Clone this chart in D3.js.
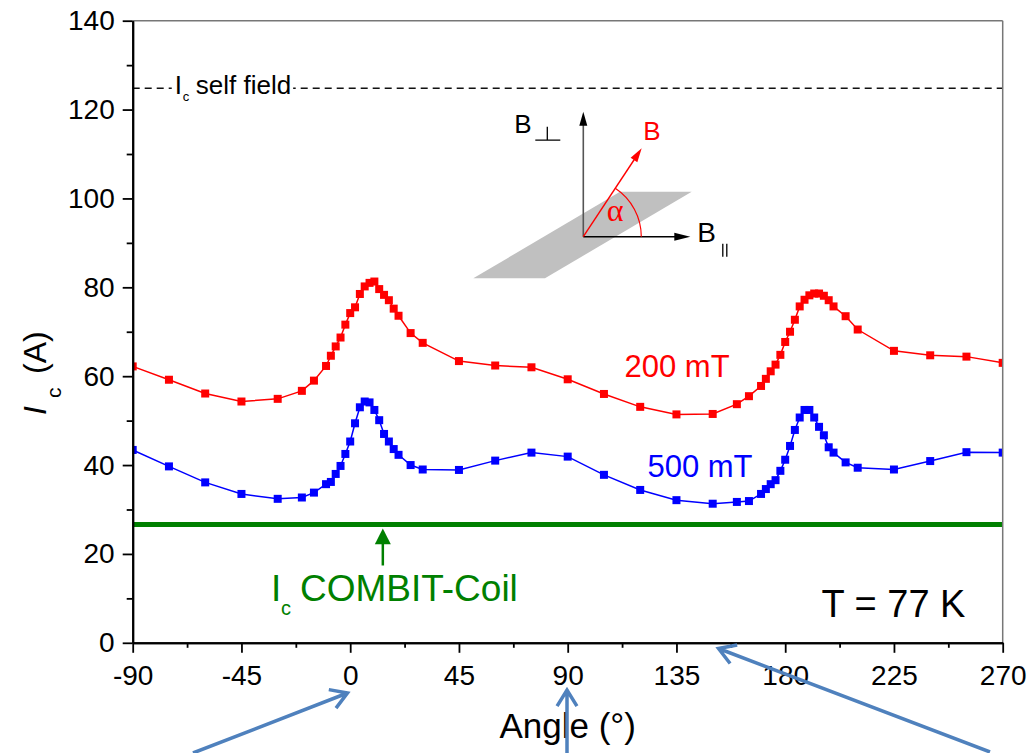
<!DOCTYPE html>
<html>
<head>
<meta charset="utf-8">
<script src="https://cdn.jsdelivr.net/npm/d3@7"></script>
<style>
body { margin: 0; background: #fff; }
text { font-family: "Liberation Sans", Arial, sans-serif; }
</style>
</head>
<body>
<div id="chart"></div>
<script>
// measured points (angle in deg, Ic in A), same angles for both fields
var angles = [-90, -75, -60, -45, -30, -20, -15, -10, -8, -6, -4, -2,
    0, 2, 4, 6, 8, 10, 12, 14, 16, 18, 20, 25, 30, 45, 60, 75, 90, 105, 120, 135, 150,
    160, 165, 170, 172, 174, 176, 178, 180, 182, 184, 186, 188, 190, 192, 194, 196, 198, 200,
    205, 210, 225, 240, 255, 270];
var ic200 = [62.2, 59.2, 56.1, 54.3, 54.9, 56.7, 59.0, 62.3, 64.6, 66.7, 68.7, 71.6,
    74.2, 75.5, 78.5, 80.2, 81.0, 81.3, 79.6, 78.3, 77.1, 75.2, 73.6, 69.7, 67.5, 63.4, 62.4, 62.0, 59.3, 56.0, 53.1, 51.4, 51.5,
    53.7, 55.5, 57.8, 59.4, 61.1, 62.6, 64.8, 67.7, 70.0, 72.7, 75.7, 77.2, 78.2, 78.6, 78.6, 78.1, 77.1, 75.7,
    73.5, 70.5, 65.7, 64.7, 64.4, 63.0];
var ic500 = [43.4, 39.7, 36.1, 33.5, 32.4, 32.7, 33.8, 35.7, 36.2, 38.0, 39.8, 42.5,
    45.3, 49.4, 53.0, 54.3, 54.1, 52.4, 50.1, 47.0, 45.3, 43.6, 42.3, 40.0, 39.0, 38.9, 41.0, 42.8, 41.9, 37.8, 34.4, 32.1, 31.3,
    31.7, 31.9, 33.5, 34.6, 35.7, 36.6, 38.7, 41.2, 44.3, 47.9, 50.7, 52.4, 52.4, 50.7, 48.6, 46.7, 44.0, 42.8,
    40.6, 39.4, 39.0, 40.9, 42.9, 42.8];
var xMajor = [-90, -45, 0, 45, 90, 135, 180, 225, 270];
var xMinor = [-67.5, -22.5, 22.5, 67.5, 112.5, 157.5, 202.5, 247.5];
var yMajor = [0, 20, 40, 60, 80, 100, 120, 140];
var yMinor = [10, 30, 50, 70, 90, 110, 130];
var icSelfField = 124.8;
var icCoil = 26.6;
var coilArrowAngle = 13.5;

var margin = {top: 20.7, right: 32.3, bottom: 110.2, left: 132.7};
var width = 1035 - margin.left - margin.right;
var height = 753 - margin.top - margin.bottom;

var root = d3.select("#chart").append("svg")
    .attr("width", 1035)
    .attr("height", 753);
var svg = root.append("g")
    .attr("transform", "translate(" + margin.left + "," + margin.top + ")");

var x = d3.scaleLinear().domain([-90, 270]).range([0, width]);
var y = d3.scaleLinear().domain([0, 140]).range([height, 0]);

svg.append("clipPath").attr("id", "plotclip")
    .append("rect").attr("width", width).attr("height", height);

// self field dashed line + label
svg.append("line")
    .attr("x1", 0).attr("x2", width)
    .attr("y1", y(icSelfField)).attr("y2", y(icSelfField))
    .attr("stroke", "#111").attr("stroke-width", 1.3)
    .attr("stroke-dasharray", "7,5");
var sfx = x(-72.6);
var sfLabel = svg.append("text")
    .attr("x", sfx).attr("y", y(123.4))
    .style("font-size", "26px");
sfLabel.append("tspan").text("I");
sfLabel.append("tspan").attr("x", sfx + 8).attr("dy", 7).style("font-size", "13px").text("c");
sfLabel.append("tspan").attr("x", sfx + 21).attr("dy", -7).text("self field");
var bb = sfLabel.node().getBBox();
svg.insert("rect", "text")
    .attr("x", bb.x - 3).attr("y", y(icSelfField) - 3)
    .attr("width", bb.width + 5).attr("height", 6)
    .attr("fill", "#fff");

// COMBIT coil line
svg.append("line")
    .attr("x1", 0).attr("x2", width)
    .attr("y1", y(icCoil)).attr("y2", y(icCoil))
    .attr("stroke", "#008000").attr("stroke-width", 5);
svg.append("line")
    .attr("x1", x(coilArrowAngle)).attr("x2", x(coilArrowAngle))
    .attr("y1", y(17.4)).attr("y2", y(22.5))
    .attr("stroke", "#008000").attr("stroke-width", 2.5);
svg.append("path")
    .attr("d", "M" + (x(coilArrowAngle) - 8) + "," + y(22.2) +
        "L" + x(coilArrowAngle) + "," + y(25.7) +
        "L" + (x(coilArrowAngle) + 8) + "," + y(22.2) + "Z")
    .attr("fill", "#008000");
var cx0 = x(-32.8);
var coilLabel = svg.append("text")
    .attr("x", cx0).attr("y", y(9.5))
    .attr("fill", "#008000")
    .style("font-size", "37px");
coilLabel.append("tspan").text("I");
coilLabel.append("tspan").attr("x", cx0 + 10).attr("dy", 14).style("font-size", "20px").text("c");
coilLabel.append("tspan").attr("x", cx0 + 29).attr("dy", -14).text("COMBIT-Coil");

// data series
var series = [
    {values: ic200, color: "#ff0000"},
    {values: ic500, color: "#0000ff"}
];
var line = d3.line()
    .x(function(d) { return x(d[0]); })
    .y(function(d) { return y(d[1]); });
var plot = svg.append("g").attr("clip-path", "url(#plotclip)");
series.forEach(function(s) {
    var pts = angles.map(function(a, i) { return [a, s.values[i]]; });
    plot.append("path")
        .datum(pts)
        .attr("fill", "none")
        .attr("stroke", s.color)
        .attr("stroke-width", 1.5)
        .attr("d", line);
    plot.selectAll(null)
        .data(pts)
        .enter()
        .append("rect")
        .attr("x", function(d) { return x(d[0]) - 4; })
        .attr("y", function(d) { return y(d[1]) - 4; })
        .attr("width", 8)
        .attr("height", 8)
        .attr("fill", s.color);
});

svg.append("text")
    .attr("x", x(113.5)).attr("y", y(59.8))
    .attr("fill", "#ff0000")
    .style("font-size", "31px")
    .text("200 mT");
svg.append("text")
    .attr("x", x(123.0)).attr("y", y(37.3))
    .attr("fill", "#0000ff")
    .style("font-size", "31px")
    .text("500 mT");
svg.append("text")
    .attr("x", x(195.0)).attr("y", y(5.9))
    .style("font-size", "38px")
    .text("T = 77 K");

// frame
svg.append("line").attr("x1", 0).attr("x2", width).attr("y1", 0).attr("y2", 0)
    .attr("stroke", "#777").attr("stroke-width", 1.5);
svg.append("line").attr("x1", width).attr("x2", width).attr("y1", 0).attr("y2", height)
    .attr("stroke", "#777").attr("stroke-width", 1.5);

// axes
var fmt = function(d) { return String(d); };
svg.append("g")
    .attr("transform", "translate(0," + height + ")")
    .call(d3.axisBottom(x).tickValues(xMajor).tickFormat(fmt).tickSize(10).tickSizeOuter(0).tickPadding(12));
svg.append("g")
    .attr("transform", "translate(0," + height + ")")
    .call(d3.axisBottom(x).tickValues(xMinor).tickFormat("").tickSize(5).tickSizeOuter(0));
svg.append("g")
    .call(d3.axisLeft(y).tickValues(yMajor).tickFormat(fmt).tickSize(10).tickSizeOuter(0).tickPadding(8));
svg.append("g")
    .call(d3.axisLeft(y).tickValues(yMinor).tickFormat("").tickSize(6).tickSizeOuter(0));
svg.selectAll(".domain").attr("stroke", "#000").attr("stroke-width", 2);
svg.selectAll(".tick line").attr("stroke", "#000").attr("stroke-width", 1.8);
svg.selectAll(".tick text")
    .style("font-family", "'Liberation Sans', Arial, sans-serif")
    .style("font-size", "28px")
    .attr("fill", "#000");

// axis titles
root.append("text")
    .attr("x", margin.left + width / 2)
    .attr("y", 738)
    .attr("text-anchor", "middle")
    .style("font-size", "35px")
    .text("Angle (°)");
var yTitle = root.append("text")
    .attr("transform", "translate(46,415) rotate(-90)")
    .style("font-size", "32px");
yTitle.append("tspan").attr("x", 0).style("font-style", "italic").text("I");
yTitle.append("tspan").attr("x", 17).attr("dy", 15).style("font-size", "21px").text("c");
yTitle.append("tspan").attr("x", 41).attr("dy", -15).text("(A)");

// inset sketch of field geometry
var o = [583.3, 236.7];
var inset = root.append("g").attr("transform", "translate(" + o[0] + "," + o[1] + ")");
inset.append("path")
    .attr("d", "M-110,41.6L-38.3,41.6L108.4,-45L36.7,-45Z")
    .attr("fill", "#c0c0c0");

function head(g, x1, y1, x2, y2, len, hw, color) {
    var a = Math.atan2(y2 - y1, x2 - x1);
    var bx = x2 - len * Math.cos(a), by = y2 - len * Math.sin(a);
    var px = -Math.sin(a) * hw, py = Math.cos(a) * hw;
    g.append("path")
        .attr("d", "M" + x2 + "," + y2 + "L" + (bx + px) + "," + (by + py) +
            "L" + (bx - px) + "," + (by - py) + "Z")
        .attr("fill", color);
}

inset.append("line").attr("x1", 0).attr("y1", 0).attr("x2", 0).attr("y2", -115)
    .attr("stroke", "#555").attr("stroke-width", 1.6);
head(inset, 0, 0, 0, -125, 14, 4, "#000");
inset.append("line").attr("x1", 0).attr("y1", 0).attr("x2", 95).attr("y2", 0)
    .attr("stroke", "#000").attr("stroke-width", 1.4);
head(inset, 0, 0, 107, 0, 16, 4, "#000");
inset.append("line").attr("x1", 0).attr("y1", 0).attr("x2", 52).attr("y2", -78.7)
    .attr("stroke", "#ff0000").attr("stroke-width", 1.4);
head(inset, 0, 0, 58.4, -88.4, 14, 4, "#ff0000");
var arcAng = Math.atan2(88.4, 58.4);
inset.append("path")
    .attr("d", "M58,0A58,58 0 0 0 " + (58 * Math.cos(arcAng)) + "," + (-58 * Math.sin(arcAng)))
    .attr("fill", "none").attr("stroke", "#ff0000").attr("stroke-width", 1.2);
inset.append("text").attr("x", 23.5).attr("y", -16)
    .attr("fill", "#ff0000")
    .style("font-family", "'Liberation Serif', 'DejaVu Serif', serif")
    .style("font-size", "32px")
    .text("α");
inset.append("text").attr("x", 60).attr("y", -96.5)
    .attr("fill", "#ff0000").style("font-size", "26px").text("B");
inset.append("text").attr("x", -69).attr("y", -103.5)
    .style("font-size", "26px").text("B");
inset.append("path")
    .attr("d", "M-48,-96.5L-23,-96.5M-36,-96.5L-36,-110")
    .attr("fill", "none").attr("stroke", "#000").attr("stroke-width", 1.3);
inset.append("text").attr("x", 114).attr("y", 5)
    .style("font-size", "28px").text("B");
inset.append("path")
    .attr("d", "M139.5,7L139.5,20M143.5,7L143.5,20")
    .attr("fill", "none").attr("stroke", "#000").attr("stroke-width", 1.3);

// blue pointer arrows at bottom
var pointers = [
    [193, 753, 347.5, 693],
    [567, 753, 567, 690],
    [990, 752, 718.5, 648.5]
];
pointers.forEach(function(p) {
    var a = Math.atan2(p[3] - p[1], p[2] - p[0]);
    var arm = 19, spread = 0.55;
    root.append("path")
        .attr("d", "M" + p[0] + "," + p[1] + "L" + p[2] + "," + p[3] +
            "M" + (p[2] - arm * Math.cos(a - spread)) + "," + (p[3] - arm * Math.sin(a - spread)) +
            "L" + p[2] + "," + p[3] +
            "L" + (p[2] - arm * Math.cos(a + spread)) + "," + (p[3] - arm * Math.sin(a + spread)))
        .attr("fill", "none")
        .attr("stroke", "#4f81bd")
        .attr("stroke-width", 3.5)
        .attr("stroke-linejoin", "miter");
});
</script>
</body>
</html>
